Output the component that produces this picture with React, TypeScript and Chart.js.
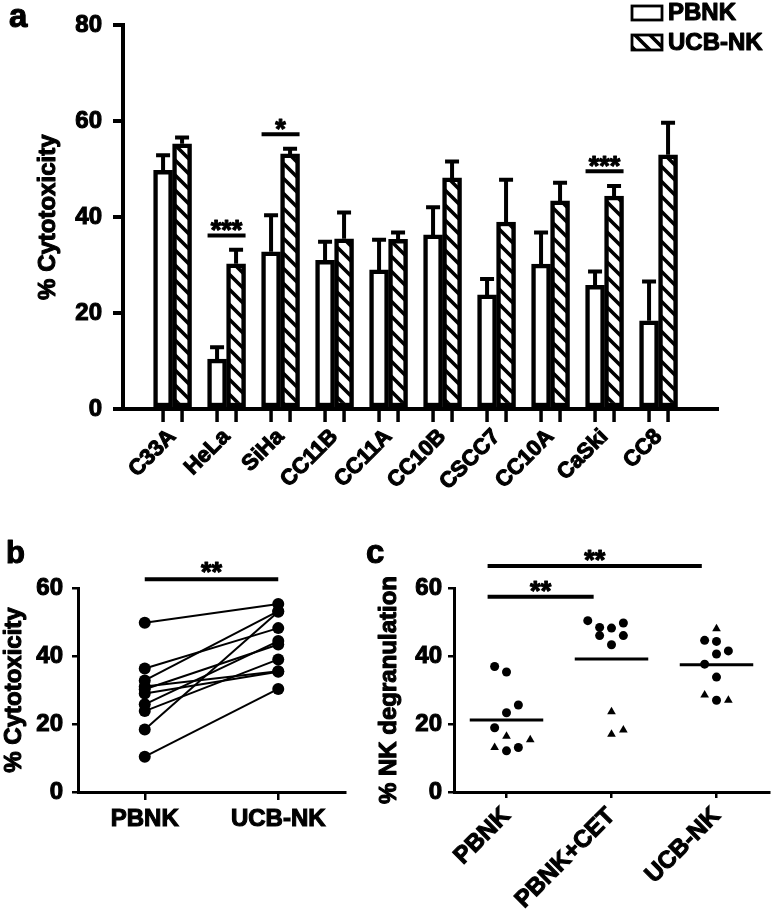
import React, { useEffect, useRef } from 'react';
import { Chart, registerables } from 'chart.js';
Chart.register(...registerables);

const FONT = 'Arial, "Liberation Sans", Helvetica, sans-serif';
Chart.defaults.font.family = FONT;
Chart.defaults.color = '#000';

// ---------- Panel a ----------
const cellLines = ['C33A', 'HeLa', 'SiHa', 'CC11B', 'CC11A', 'CC10B', 'CSCC7', 'CC10A', 'CaSki', 'CC8'];
const pbnkMean = [49.8, 10.4, 32.8, 31.0, 29.0, 36.3, 23.8, 30.2, 25.8, 18.4];
const pbnkSem = [3.1, 2.5, 7.6, 3.9, 6.3, 5.8, 3.3, 6.6, 2.9, 8.2];
const ucbMean = [55.3, 30.3, 53.2, 35.5, 35.4, 48.2, 39.0, 43.4, 44.4, 53.0];
const ucbSem = [1.3, 2.9, 1.1, 5.5, 1.4, 3.4, 8.8, 3.8, 2.1, 6.7];
const aYTicks = [0, 20, 40, 60, 80];
const aSigIndex = [1, 2, 8];
const aSigLevel = [36.2, 57.3, 49.6];
const aSigText = ['***', '*', '***'];

// ---------- Panel b ----------
const bGroups = ['PBNK', 'UCB-NK'];
const bYTicks = [0, 20, 40, 60];
const bSigLevel = 62.6;
const bSigText = '**';

// ---------- Panel c ----------
const cGroups = ['PBNK', 'PBNK+CET', 'UCB-NK'];
const cPbnkVals = [36.9, 35.3, 25.6, 23.3, 18.9, 12.1, 13.1, 16.4, 15.4, 13.1];
const cPbnkJit = [-1, 0, 1, 0, -1, 0, 1, 0, 2, -1];
const cPbnkShape = ['c', 'c', 'c', 'c', 'c', 'c', 'c', 't', 't', 't'];
const cCetVals = [50.4, 48.4, 48.2, 49.7, 46.0, 46.0, 43.3, 23.6, 17.0, 18.2];
const cCetJit = [-2, -1, 0, 1, -1, 1, 0, 0, 0, 1];
const cCetShape = ['c', 'c', 'c', 'c', 'c', 'c', 'c', 't', 't', 't'];
const cUcbVals = [44.6, 44.3, 40.6, 41.5, 37.6, 33.8, 27.0, 48.0, 28.5, 27.0];
const cUcbJit = [-1, 0, 0, 1, -1, 0, 0, 0, -1, 1];
const cUcbShape = ['c', 'c', 'c', 'c', 'c', 'c', 'c', 't', 't', 't'];
const cMeans = [21.2, 39.1, 37.4];
const cYTicks = [0, 20, 40, 60];
const cSigFrom = [-0.18, -0.18];
const cSigTo = [0.83, 1.86];
const cSigLevel = [57.4, 66.5];
const cSigText = ['**', '**'];

const JIT = 0.113;
const MEAN_HALF = 0.35;
const STROKE = 1.1;

function makeHatch(): CanvasPattern {
  const s = 15;
  const c = document.createElement('canvas');
  c.width = s;
  c.height = s;
  const g = c.getContext('2d')!;
  g.fillStyle = '#fff';
  g.fillRect(0, 0, s, s);
  g.strokeStyle = '#000';
  g.lineWidth = 3.6;
  g.beginPath();
  g.moveTo(-s, -s);
  g.lineTo(2 * s, 2 * s);
  g.moveTo(-s, 0);
  g.lineTo(s, 2 * s);
  g.moveTo(0, -s);
  g.lineTo(2 * s, s);
  g.stroke();
  return g.createPattern(c, 'repeat')!;
}

function boldText(ctx: CanvasRenderingContext2D, text: string, x: number, y: number, size: number, align: CanvasTextAlign) {
  ctx.save();
  ctx.fillStyle = '#000';
  ctx.strokeStyle = '#000';
  ctx.lineWidth = STROKE;
  ctx.lineJoin = 'round';
  ctx.font = `bold ${size}px ${FONT}`;
  ctx.textAlign = align;
  ctx.textBaseline = 'alphabetic';
  ctx.strokeText(text, x, y);
  ctx.fillText(text, x, y);
  ctx.restore();
}

function drawSig(ctx: CanvasRenderingContext2D, x1: number, x2: number, y: number, text: string, gap: number) {
  ctx.save();
  ctx.strokeStyle = '#000';
  ctx.lineWidth = 4;
  ctx.beginPath();
  ctx.moveTo(x1, y);
  ctx.lineTo(x2, y);
  ctx.stroke();
  ctx.restore();
  boldText(ctx, text, (x1 + x2) / 2, y + gap, 27, 'center');
}

// overdraw the axis title with a thin outline so it matches the heavy weight of the figure
function strokeTitle(chart: any, text: string, padTop: number) {
  const ctx = chart.ctx as CanvasRenderingContext2D;
  const s = chart.scales.y;
  const x = s.left + (24 * 1.2) / 2 + padTop;
  const y = (s.top + s.bottom) / 2;
  ctx.save();
  ctx.translate(x, y);
  ctx.rotate(-Math.PI / 2);
  ctx.font = `bold 24px ${FONT}`;
  ctx.textAlign = 'center';
  ctx.textBaseline = 'middle';
  ctx.strokeStyle = '#000';
  ctx.lineWidth = STROKE;
  ctx.lineJoin = 'round';
  ctx.strokeText(text, 0, 0);
  ctx.restore();
}

const tickFont = { family: FONT, size: 24, weight: 'bold' as const };

function makeA(canvas: HTMLCanvasElement, hatch: CanvasPattern) {
  const semArr = [pbnkSem, ucbSem];
  const meanArr = [pbnkMean, ucbMean];
  const plugin = {
    id: 'aExtras',
    beforeDatasetsDraw(chart: any) {
      const ctx = chart.ctx as CanvasRenderingContext2D;
      const ys = chart.scales.y;
      ctx.save();
      ctx.strokeStyle = '#000';
      ctx.lineWidth = 4;
      [0, 1].forEach((d) => {
        const meta = chart.getDatasetMeta(d);
        meta.data.forEach((el: any, i: number) => {
          const top = ys.getPixelForValue(meanArr[d][i] + semArr[d][i]);
          ctx.beginPath();
          ctx.moveTo(el.x, el.y);
          ctx.lineTo(el.x, top);
          ctx.moveTo(el.x - 7, top);
          ctx.lineTo(el.x + 7, top);
          ctx.stroke();
        });
      });
      ctx.restore();
    },
    afterDraw(chart: any) {
      const ctx = chart.ctx as CanvasRenderingContext2D;
      const ys = chart.scales.y;
      const bottom = chart.chartArea.bottom;
      ctx.save();
      ctx.strokeStyle = '#000';
      ctx.lineWidth = 3.5;
      [0, 1].forEach((d) => {
        chart.getDatasetMeta(d).data.forEach((el: any) => {
          ctx.beginPath();
          ctx.moveTo(el.x, bottom);
          ctx.lineTo(el.x, bottom + 13);
          ctx.stroke();
        });
      });
      ctx.restore();
      const m0 = chart.getDatasetMeta(0).data;
      const m1 = chart.getDatasetMeta(1).data;
      aSigIndex.forEach((idx, k) => {
        const x1 = m0[idx].x - m0[idx].width / 2;
        const x2 = m1[idx].x + m1[idx].width / 2;
        drawSig(ctx, x1, x2, ys.getPixelForValue(aSigLevel[k]), aSigText[k], 4);
      });
      // legend
      ctx.save();
      ctx.lineWidth = 2.8;
      ctx.strokeStyle = '#000';
      ctx.fillStyle = '#fff';
      ctx.fillRect(632, 6, 30, 14);
      ctx.strokeRect(632, 6, 30, 14);
      ctx.fillStyle = hatch;
      ctx.fillRect(632, 35, 30, 15);
      ctx.strokeRect(632, 35, 30, 15);
      ctx.restore();
      boldText(ctx, chart.data.datasets[0].label, 668, 20, 24, 'left');
      boldText(ctx, chart.data.datasets[1].label, 668, 50, 24, 'left');
      strokeTitle(chart, '% Cytotoxicity', 34);
      boldText(ctx, 'a', 9, 27, 33, 'left');
    },
  };
  return new Chart(canvas, {
    type: 'bar',
    data: {
      datasets: [
        {
          label: 'PBNK',
          data: pbnkMean.map((v, i) => ({ x: i, y: v })),
          backgroundColor: '#fff',
          borderColor: '#000',
          borderWidth: 4.5,
          borderSkipped: false,
          barThickness: 19,
        },
        {
          label: 'UCB-NK',
          data: ucbMean.map((v, i) => ({ x: i, y: v })),
          backgroundColor: hatch as any,
          borderColor: '#000',
          borderWidth: 4.5,
          borderSkipped: false,
          barThickness: 19,
        },
      ],
    },
    options: {
      responsive: false,
      animation: false,
      layout: { padding: { left: 0, right: 56, top: 14, bottom: 0 } },
      plugins: { legend: { display: false }, tooltip: { enabled: false } },
      scales: {
        x: {
          type: 'linear',
          min: -0.367,
          max: 9.55,
          afterBuildTicks: (s: any) => {
            s.ticks = cellLines.map((_, i) => ({ value: i }));
          },
          afterFit: (s: any) => {
            s.height = 91;
          },
          grid: { display: true, drawOnChartArea: false, drawTicks: true, tickLength: 13, color: 'rgba(0,0,0,0)' },
          border: { display: true, color: '#000', width: 4 },
          ticks: {
            autoSkip: false,
            minRotation: 45,
            maxRotation: 45,
            padding: 2,
            color: '#000',
            textStrokeColor: '#000',
            textStrokeWidth: STROKE,
            font: { family: FONT, size: 22, weight: 'bold' },
            callback: (v: any) => cellLines[v as number] ?? '',
          },
        },
        y: {
          type: 'linear',
          min: 0,
          max: 80,
          afterBuildTicks: (s: any) => {
            s.ticks = aYTicks.map((v) => ({ value: v }));
          },
          afterFit: (s: any) => {
            s.width = 123;
          },
          grid: { drawOnChartArea: false, drawTicks: true, tickLength: 10, color: '#000', lineWidth: 4 },
          border: { color: '#000', width: 4 },
          ticks: { padding: 11, color: '#000', textStrokeColor: '#000', textStrokeWidth: STROKE, font: tickFont },
          title: { display: true, text: '% Cytotoxicity', color: '#000', font: tickFont, padding: { top: 34, bottom: 0 } },
        },
      },
    } as any,
    plugins: [plugin],
  });
}

function makeB(canvas: HTMLCanvasElement) {
  const plugin = {
    id: 'bExtras',
    afterDraw(chart: any) {
      const ctx = chart.ctx as CanvasRenderingContext2D;
      const xs = chart.scales.x;
      const ys = chart.scales.y;
      drawSig(ctx, xs.getPixelForValue(0), xs.getPixelForValue(1), ys.getPixelForValue(bSigLevel), bSigText, 2);
      strokeTitle(chart, '% Cytotoxicity', 0);
      boldText(ctx, 'b', 6, 33, 31, 'left');
    },
  };
  return new Chart(canvas, {
    type: 'line',
    data: {
      labels: bGroups,
      datasets: pbnkMean.map((v, i) => ({
        data: [v, ucbMean[i]],
        borderColor: '#000',
        borderWidth: 2,
        pointRadius: 6,
        pointBackgroundColor: '#000',
        pointBorderColor: '#000',
        pointBorderWidth: 0,
      })),
    },
    options: {
      responsive: false,
      animation: false,
      layout: { padding: { left: 0, right: 15, top: 58, bottom: 0 } },
      plugins: { legend: { display: false }, tooltip: { enabled: false } },
      scales: {
        x: {
          type: 'category',
          offset: true,
          afterFit: (s: any) => {
            s.height = 118;
          },
          grid: { drawOnChartArea: false, drawTicks: true, tickLength: 8, color: '#000', lineWidth: 2.5, offset: false },
          border: { color: '#000', width: 3 },
          ticks: { padding: 5, color: '#000', textStrokeColor: '#000', textStrokeWidth: STROKE, font: tickFont },
        },
        y: {
          min: 0,
          max: 60,
          afterBuildTicks: (s: any) => {
            s.ticks = bYTicks.map((v) => ({ value: v }));
          },
          afterFit: (s: any) => {
            s.width = 78;
          },
          grid: { drawOnChartArea: false, drawTicks: true, tickLength: 6, color: '#000', lineWidth: 2.5 },
          border: { color: '#000', width: 3 },
          ticks: { padding: 9, color: '#000', textStrokeColor: '#000', textStrokeWidth: STROKE, font: tickFont },
          title: { display: true, text: '% Cytotoxicity', color: '#000', font: tickFont, padding: { top: 0, bottom: 0 } },
        },
      },
    } as any,
    plugins: [plugin],
  });
}

function makeC(canvas: HTMLCanvasElement) {
  const vals = [cPbnkVals, cCetVals, cUcbVals];
  const jits = [cPbnkJit, cCetJit, cUcbJit];
  const shapes = [cPbnkShape, cCetShape, cUcbShape];
  const circles: { x: number; y: number }[] = [];
  const tris: { x: number; y: number }[] = [];
  vals.forEach((arr, g) => {
    arr.forEach((v, j) => {
      const p = { x: g + jits[g][j] * JIT, y: v };
      if (shapes[g][j] === 'c') circles.push(p);
      else tris.push(p);
    });
  });
  const plugin = {
    id: 'cExtras',
    afterDraw(chart: any) {
      const ctx = chart.ctx as CanvasRenderingContext2D;
      const xs = chart.scales.x;
      const ys = chart.scales.y;
      cSigLevel.forEach((lv, k) => {
        drawSig(ctx, xs.getPixelForValue(cSigFrom[k]), xs.getPixelForValue(cSigTo[k]), ys.getPixelForValue(lv), cSigText[k], 3);
      });
      strokeTitle(chart, '% NK degranulation', 15);
      boldText(ctx, 'c', 6, 33, 33, 'left');
    },
  };
  return new Chart(canvas, {
    type: 'scatter',
    data: {
      datasets: [
        { data: circles, pointStyle: 'circle', pointRadius: 4.5, backgroundColor: '#000', borderColor: '#000', borderWidth: 0 },
        { data: tris, pointStyle: 'triangle', pointRadius: 5, backgroundColor: '#000', borderColor: '#000', borderWidth: 0 },
        ...cMeans.map((m, g) => ({
          type: 'line' as const,
          data: [
            { x: g - MEAN_HALF, y: m },
            { x: g + MEAN_HALF, y: m },
          ],
          borderColor: '#000',
          borderWidth: 3,
          pointRadius: 0,
          showLine: true,
        })),
      ],
    },
    options: {
      responsive: false,
      animation: false,
      layout: { padding: { left: 0, right: 2, top: 58, bottom: 0 } },
      plugins: { legend: { display: false }, tooltip: { enabled: false } },
      scales: {
        x: {
          type: 'linear',
          min: -0.5,
          max: 2.5,
          afterBuildTicks: (s: any) => {
            s.ticks = cGroups.map((_, i) => ({ value: i }));
          },
          afterFit: (s: any) => {
            s.height = 118;
          },
          grid: { drawOnChartArea: false, drawTicks: true, tickLength: 6, color: '#000', lineWidth: 2.5 },
          border: { color: '#000', width: 3 },
          ticks: {
            autoSkip: false,
            minRotation: 45,
            maxRotation: 45,
            padding: 4,
            color: '#000',
            textStrokeColor: '#000',
            textStrokeWidth: STROKE,
            font: tickFont,
            callback: (v: any) => cGroups[v as number] ?? '',
          },
        },
        y: {
          min: 0,
          max: 60,
          afterBuildTicks: (s: any) => {
            s.ticks = cYTicks.map((v) => ({ value: v }));
          },
          afterFit: (s: any) => {
            s.width = 94;
          },
          grid: { drawOnChartArea: false, drawTicks: true, tickLength: 6, color: '#000', lineWidth: 2.5 },
          border: { color: '#000', width: 3 },
          ticks: { padding: 6, color: '#000', textStrokeColor: '#000', textStrokeWidth: STROKE, font: tickFont },
          title: { display: true, text: '% NK degranulation', color: '#000', font: tickFont, padding: { top: 15, bottom: 0 } },
        },
      },
    } as any,
    plugins: [plugin],
  });
}

export default function App() {
  const aRef = useRef<HTMLCanvasElement>(null);
  const bRef = useRef<HTMLCanvasElement>(null);
  const cRef = useRef<HTMLCanvasElement>(null);
  useEffect(() => {
    const hatch = makeHatch();
    const charts = [makeA(aRef.current!, hatch), makeB(bRef.current!), makeC(cRef.current!)];
    return () => charts.forEach((c) => c.destroy());
  }, []);
  return (
    <div style={{ position: 'absolute', left: 0, top: 0, width: 774, height: 910, background: '#fff', overflow: 'hidden' }}>
      <canvas ref={aRef} width={774} height={500} style={{ position: 'absolute', left: 0, top: 0 }} />
      <canvas ref={bRef} width={360} height={380} style={{ position: 'absolute', left: 0, top: 530 }} />
      <canvas ref={cRef} width={414} height={380} style={{ position: 'absolute', left: 360, top: 530 }} />
    </div>
  );
}
